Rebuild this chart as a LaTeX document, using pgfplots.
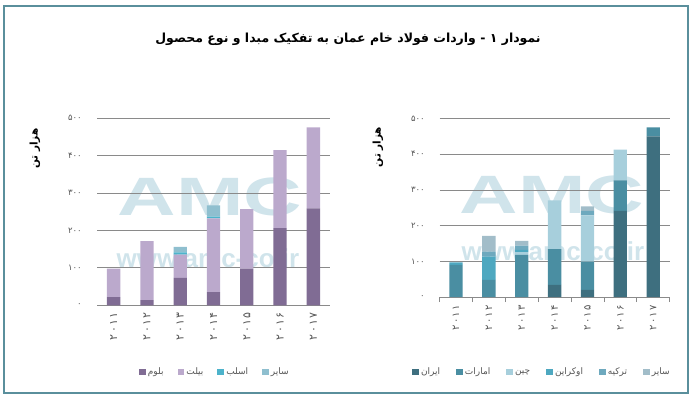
\documentclass[border=0pt]{standalone}
\usepackage{pgfplots}
\usepackage{pgfplotstable}
\pgfplotsset{compat=1.18}
\usepackage{fontspec}
\setmainfont{DejaVu Sans}
\newfontfamily\arabicfont[Script=Arabic]{DejaVu Sans}
\newfontfamily\yearfont[Script=Arabic, LetterSpace=12]{DejaVu Sans}
\newfontfamily\wmfont{Liberation Sans}
\TeXXeTstate=1

\definecolor{framecol}{HTML}{5A8F9C}
\definecolor{wm}{HTML}{D0E4EB}
\definecolor{gridc}{HTML}{8A8A8A}
\definecolor{tickc}{HTML}{555555}
% left series
\definecolor{lbl}{HTML}{806C94}
\definecolor{lbi}{HTML}{BBA9CC}
\definecolor{lsl}{HTML}{4DB3CB}
\definecolor{lot}{HTML}{8FBFCF}
% right series
\definecolor{rir}{HTML}{3E6F7F}
\definecolor{rem}{HTML}{4A8EA2}
\definecolor{rch}{HTML}{A7CFDC}
\definecolor{ruk}{HTML}{4EA8C0}
\definecolor{rtr}{HTML}{6EA9BE}
\definecolor{rot}{HTML}{A2BDC9}

\pgfplotstableread{
x bl bi sl ot
0 22 76 0 0
1 14 157 0 0
2 73 62 6 15
3 35 197 5 30
4 98 159 0 0
5 206 208 0 0
6 259 216 0 0
}\lefttab

\pgfplotstableread{
x ir em ch uk tr ot
0 0 90 0 7 0 0
1 0 48 0 65 14 44
2 0 118 8 6 12 13
3 34 100 137 0 0 0
4 20 79 130 0 12 13
5 241 86 86 0 0 0
6 450 25 0 0 0 0
}\righttab

\pgfplotsset{
  chartstyle/.style={
    scale only axis,
    ybar stacked,
    bar width=13.3pt,
    xmin=-0.5, xmax=6.5, ymin=0, ymax=500,
    axis line style={draw=none},
    ytick={0,100,200,300,400,500},
    yticklabels={۰,۱۰۰,۲۰۰,۳۰۰,۴۰۰,۵۰۰},
    ytick style={draw=none},
    ymajorgrids,
    grid style={draw=gridc, line width=0.7pt},
    xtick={0,...,6},
    xticklabels={۲۰۱۱,۲۰۱۲,۲۰۱۳,۲۰۱۴,۲۰۱۵,۲۰۱۶,۲۰۱۷},
    xtick style={draw=none},
    xtick pos=bottom,
    yticklabel style={font=\arabicfont\fontsize{8.5}{9}\selectfont, text=tickc, inner sep=0pt, anchor=east},
    legend columns=-1,
    legend image code/.code={\fill[##1] (0pt,-3.4pt) rectangle (6.8pt,3.4pt);},
    legend style={draw=none, fill=none, font=\arabicfont\fontsize{9}{10}\selectfont, text=tickc,
      inner sep=0pt, nodes={inner sep=2pt}},
  }
}

\begin{document}
\begin{tikzpicture}
\useasboundingbox (0pt,0pt) rectangle (692pt,402pt);
\draw[framecol, line width=1.2pt] (4pt,9pt) rectangle (688pt,396pt);
\node[font=\arabicfont\bfseries\fontsize{12.5}{14}\selectfont] at (348pt,363pt)
  {\beginR نمودار ۱ - واردات فولاد خام عمان به تفکیک مبدا و نوع محصول\endR};

% watermarks
\node[anchor=base, text=wm, font=\wmfont\bfseries\fontsize{54}{54}\selectfont, xscale=1.5, inner sep=0pt] at (210pt,187pt) {AMC};
\node[anchor=base, text=wm, font=\wmfont\bfseries\fontsize{26}{26}\selectfont, inner sep=0pt] at (208pt,135pt) {www.amc-co.ir};
\node[anchor=base, text=wm, font=\wmfont\bfseries\fontsize{54}{54}\selectfont, xscale=1.5, inner sep=0pt] at (552pt,189pt) {AMC};
\node[anchor=base, text=wm, font=\wmfont\bfseries\fontsize{26}{26}\selectfont, inner sep=0pt] at (553pt,142pt) {www.amc-co.ir};

% y labels
\node[rotate=90, font=\arabicfont\bfseries\fontsize{10.5}{12}\selectfont] at (35pt,253.5pt) {\beginR هزار تن\endR};
\node[rotate=90, font=\arabicfont\bfseries\fontsize{10.5}{12}\selectfont] at (378pt,255pt) {\beginR هزار تن\endR};

% left chart
\begin{axis}[chartstyle,
  at={(97pt,96.7pt)}, anchor=south west,
  width=233pt, height=187.3pt,
  yticklabel shift=15pt,
  xticklabel shift=7pt,
  xticklabel style={rotate=90, anchor=east, inner sep=0pt, font=\yearfont\fontsize{11}{12}\selectfont, text=tickc},
  legend style={at={(0.506,-0.356)}, anchor=center,
    /tikz/every even column/.append style={column sep=12pt}},
]
\addplot[fill=lbl, draw=none] table[x=x, y=bl] {\lefttab};
\addlegendentry{\beginR بلوم\endR}
\addplot[fill=lbi, draw=none] table[x=x, y=bi] {\lefttab};
\addlegendentry{\beginR بیلت\endR}
\addplot[fill=lsl, draw=none] table[x=x, y=sl] {\lefttab};
\addlegendentry{\beginR اسلب\endR}
\addplot[fill=lot, draw=none] table[x=x, y=ot] {\lefttab};
\addlegendentry{\beginR سایر\endR}
\end{axis}

% right chart
\begin{axis}[chartstyle,
  at={(439.6pt,105pt)}, anchor=south west,
  width=230pt, height=178.5pt,
  yticklabel shift=14.6pt,
  xticklabel shift=8pt,
  xticklabel style={rotate=90, anchor=east, inner sep=0pt, font=\yearfont\fontsize{10}{11}\selectfont, text=tickc},
  extra x ticks={-0.5,0.5,1.5,2.5,3.5,4.5,5.5,6.5},
  extra x tick labels={},
  extra x tick style={tick align=outside, major tick length=5pt, xtick style={draw=gridc, line width=0.7pt}},
  legend style={at={(0.445,-0.42)}, anchor=center,
    /tikz/every even column/.append style={column sep=14pt}},
]
\addplot[fill=rir, draw=none] table[x=x, y=ir] {\righttab};
\addlegendentry{\beginR ایران\endR}
\addplot[fill=rem, draw=none] table[x=x, y=em] {\righttab};
\addlegendentry{\beginR امارات\endR}
\addplot[fill=rch, draw=none] table[x=x, y=ch] {\righttab};
\addlegendentry{\beginR چین\endR}
\addplot[fill=ruk, draw=none] table[x=x, y=uk] {\righttab};
\addlegendentry{\beginR اوکراین\endR}
\addplot[fill=rtr, draw=none] table[x=x, y=tr] {\righttab};
\addlegendentry{\beginR ترکیه\endR}
\addplot[fill=rot, draw=none] table[x=x, y=ot] {\righttab};
\addlegendentry{\beginR سایر\endR}
\end{axis}
\end{tikzpicture}
\end{document}
